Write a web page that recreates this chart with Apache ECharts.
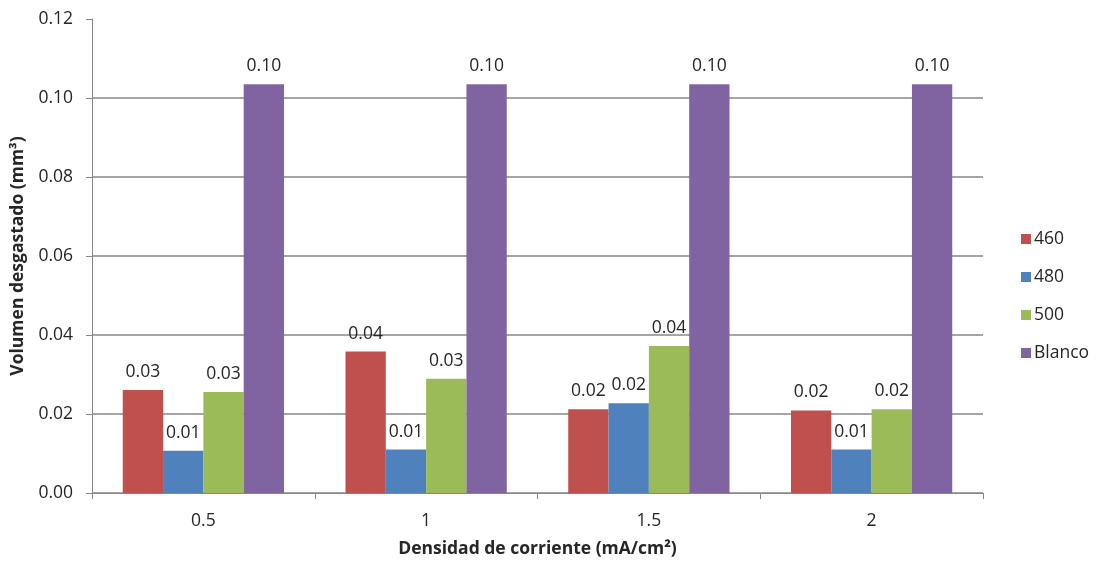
<!DOCTYPE html>
<html>
<head>
<meta charset="utf-8">
<script src="https://cdn.jsdelivr.net/npm/echarts@6/dist/echarts.min.js"></script>
<style>
  html, body { margin: 0; padding: 0; background: #fff; }
  #chart { width: 1096px; height: 563px; }
</style>
</head>
<body>
<div id="chart"></div>
<script>
// Current density categories (mA/cm²)
const categories = ['0.5', '1', '1.5', '2'];

// Worn volume (mm³) per series
const s460 = [0.0261, 0.0358, 0.0212, 0.0209];
const s480 = [0.0107, 0.0110, 0.0227, 0.0110];
const s500 = [0.0256, 0.0289, 0.0372, 0.0212];
const sBlanco = [0.1035, 0.1035, 0.1035, 0.1035];

const seriesNames = ['460', '480', '500', 'Blanco'];
const seriesData = [s460, s480, s500, sBlanco];
const colors = ['#C0504D', '#4F81BD', '#9BBB59', '#8064A2'];

const FONT = '"Open Sans", "Liberation Sans", sans-serif';
const TEXT = '#262626';
const GRID = '#878787';

const chart = echarts.init(document.getElementById('chart'), null, { renderer: 'canvas' });

chart.setOption({
  animation: false,
  backgroundColor: '#ffffff',
  textStyle: { fontFamily: FONT, color: TEXT },
  grid: { left: 92, right: 113, top: 19, bottom: 69, containLabel: false },
  legend: {
    orient: 'vertical',
    left: 1016,
    top: 225,
    itemWidth: 10,
    itemHeight: 10,
    itemGap: 20,
    icon: 'rect',
    data: seriesNames,
    textStyle: { fontFamily: FONT, fontSize: 17.5, color: TEXT, padding: [0, 0, 0, -2] }
  },
  xAxis: {
    type: 'category',
    data: categories,
    name: 'Densidad de corriente (mA/cm²)',
    nameLocation: 'middle',
    nameGap: 47,
    nameTextStyle: { fontFamily: FONT, fontSize: 17.5, fontWeight: 'bold', color: TEXT },
    axisLine: { show: true, lineStyle: { color: GRID, width: 1 } },
    axisTick: { show: true, length: 6, alignWithLabel: false, lineStyle: { color: GRID } },
    axisLabel: { margin: 19, fontFamily: FONT, fontSize: 17.5, color: TEXT },
    splitLine: { show: false }
  },
  yAxis: {
    type: 'value',
    min: 0,
    max: 0.12,
    interval: 0.02,
    name: 'Volumen desgastado (mm³)',
    nameLocation: 'middle',
    nameGap: 63,
    nameTextStyle: { fontFamily: FONT, fontSize: 17.5, fontWeight: 'bold', color: TEXT },
    axisLine: { show: true, lineStyle: { color: GRID, width: 1 } },
    axisTick: { show: true, length: 6, lineStyle: { color: GRID } },
    axisLabel: {
      margin: 19,
      fontFamily: FONT,
      fontSize: 17.5,
      color: TEXT,
      formatter: v => v.toFixed(2)
    },
    splitLine: { show: true, showMaxLine: false, lineStyle: { color: GRID, width: 1.5 } }
  },
  series: seriesNames.map((name, i) => ({
    name,
    type: 'bar',
    data: seriesData[i],
    barGap: '0%',
    barCategoryGap: '27.6%',
    itemStyle: { color: colors[i] },
    label: {
      show: true,
      position: 'top',
      distance: 9,
      fontFamily: FONT,
      fontSize: 17.5,
      color: TEXT,
      formatter: p => p.value.toFixed(2)
    }
  }))
});
</script>
</body>
</html>
